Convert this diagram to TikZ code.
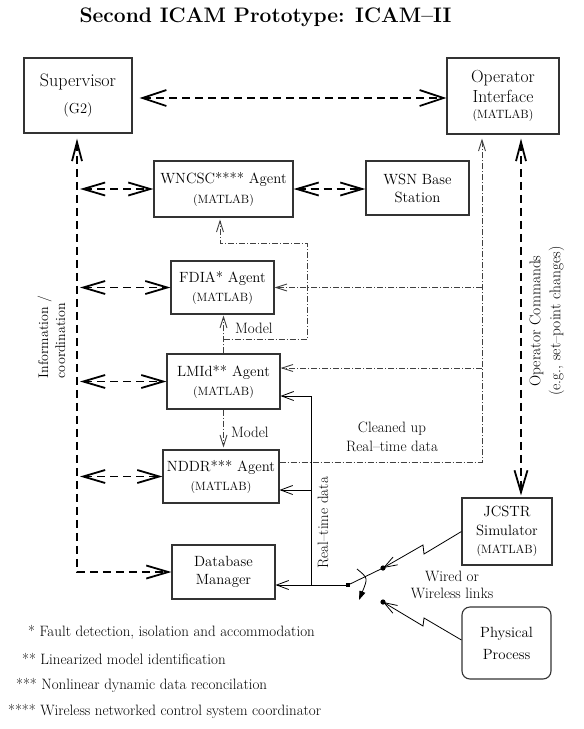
\documentclass[tikz,border=0pt]{standalone}
\usetikzlibrary{arrows.meta,calc}
\tikzset{
  tipS/.tip={Straight Barb[length=24pt,width=16pt]},
  tipA/.tip={Straight Barb[length=22pt,width=13pt]},
  tipN/.tip={Straight Barb[length=19pt,width=10pt]},
  tipD/.tip={Straight Barb[length=11pt,width=7pt]},
  tipL/.tip={Straight Barb[length=12pt,width=9pt]},
  tipW/.tip={Straight Barb[length=13pt,width=9pt]},
}
\begin{document}
\begin{tikzpicture}[x=1pt,y=-1pt,
  box/.style={draw=black!80, line width=1.1pt, inner sep=0pt, align=center},
  agent/.style={box, font=\fontsize{14.8}{19}\selectfont},
  bigdash/.style={line width=1.8pt, dash pattern=on 8pt off 5pt},
  dd/.style={line width=0.9pt, draw=black!75, dash pattern=on 6pt off 2pt on 1pt off 2pt},
  sl/.style={line width=0.8pt},
  lbl/.style={inner sep=0pt, font=\fontsize{15}{19}\selectfont},
  fn/.style={inner sep=0pt, anchor=west, font=\fontsize{15}{19}\selectfont},
]
\useasboundingbox (0,0) rectangle (584,729);
\fill[white] (0,0) rectangle (584,729);

% title
\node[inner sep=0pt, font=\bfseries\fontsize{21}{24}\selectfont] (title) at (265.5,17) {Second ICAM Prototype: ICAM\textendash II};

% boxes
\node[box, minimum width=108pt, minimum height=75pt, font=\fontsize{18}{27}\selectfont] (sup) at (78,95.5)
  {Supervisor\\{\fontsize{14.5}{27}\selectfont (G2)}};
\node[box, minimum width=112pt, minimum height=76pt, font=\fontsize{17.5}{20}\selectfont] (opi) at (503,96)
  {Operator\\Interface\\[-4pt]{\fontsize{12}{20}\selectfont (MATLAB)}};
\node[agent, minimum width=139pt, minimum height=56pt, font=\fontsize{14.8}{20}\selectfont] (wnc) at (223.5,189)
  {WNCSC**** Agent\\{\fontsize{12}{20}\selectfont (MATLAB)}};
\node[agent, minimum width=103pt, minimum height=54pt, font=\fontsize{14.8}{18}\selectfont] (wsn) at (417.5,188)
  {WSN Base\\Station};
\node[agent, minimum width=103pt, minimum height=53pt] (fdia) at (222.5,287.5)
  {FDIA* Agent\\{\fontsize{12}{19}\selectfont (MATLAB)}};
\node[agent, minimum width=113pt, minimum height=55pt] (lmid) at (223.5,381.5)
  {LMId** Agent\\{\fontsize{12}{19}\selectfont (MATLAB)}};
\node[agent, minimum width=116pt, minimum height=53pt] (nddr) at (221,476.5)
  {NDDR*** Agent\\{\fontsize{12}{19}\selectfont (MATLAB)}};
\node[agent, minimum width=103pt, minimum height=54pt, font=\fontsize{14.8}{18}\selectfont] (db) at (223.5,572)
  {Database\\Manager};
\node[agent, minimum width=90pt, minimum height=67pt, font=\fontsize{14.8}{18.5}\selectfont] (jcs) at (507,531.5)
  {JCSTR\\Simulator\\{\fontsize{12}{18.5}\selectfont (MATLAB)}};
\node[agent, rounded corners=8pt, minimum width=89pt, minimum height=72pt, font=\fontsize{14.8}{22}\selectfont] (phy) at (506.5,643)
  {Physical\\Process};

% coordinates
\coordinate (busx) at (77,0);
\coordinate (opx) at (521,0);
\coordinate (ddx) at (482,0);
\coordinate (rtx) at (311,0);
\coordinate (k1) at (307,339);
\coordinate (k2) at (307,243);
\coordinate (sw) at (348,585);
\coordinate (d1) at (383,568);
\coordinate (d2) at (383,602);
\coordinate (z1) at (423,545);
\coordinate (z2) at (424,554);
\coordinate (z3) at (423,626);
\coordinate (z4) at (424,618);
\coordinate (a1) at (357,569);
\coordinate (a2) at (368,578);
\coordinate (a3) at (359,600);
\path ([yshift=-2.5pt]sup.east) coordinate (supE)
      ([yshift=-2pt]opi.west) coordinate (opiW)
      ([yshift=14.5pt]nddr.east) coordinate (ndA)
      ([yshift=13.5pt]lmid.east) coordinate (lmA)
      ([yshift=-14.5pt]lmid.east) coordinate (lmB)
      ([yshift=-13.5pt]nddr.east) coordinate (ndB)
      ([yshift=-13pt]db.east) coordinate (dbE)
      ([xshift=-3.5pt]wnc.south) coordinate (wS)
      ([yshift=3pt]phy.west) coordinate (phW);

% thick dashed information links
\draw[bigdash, tipS-tipS, shorten <=7pt] (supE) -- (opiW);
\draw[bigdash, tipN-tipA, shorten <=5pt] (sup.south -| busx) -- (busx |- db.west) -- (db.west);
\foreach \n in {wnc,fdia,lmid,nddr}
  \draw[bigdash, tipA-tipA, shorten <=3pt] (busx |- \n.west) -- (\n.west);
\draw[bigdash, tipA-tipA] (wnc.east) -- (wsn.west |- wnc.east);
\draw[bigdash, tipN-tipA, shorten <=4pt, shorten >=2pt] (opi.south -| opx) -- (jcs.north -| opx);

% dash-dot data paths
\draw[dd, -tipD, shorten >=4pt] (ndA) -| (ddx |- opi.south);
\draw[dd, -tipD] (ddx |- fdia.east) -- (fdia.east);
\draw[dd, -tipD] (ddx |- lmA) -- (lmA);
\draw[dd, -tipD, shorten >=1pt] (lmid.north) -- (lmid.north |- fdia.south);
\draw[dd, -tipD, shorten >=2pt] (lmid.north |- k1) -- (k1) -- (k2) -- (wS |- k2) -- (wS);
\draw[dd, -tipD, shorten >=2pt] (lmid.south) -- (lmid.south |- nddr.north);

% solid real-time data paths
\draw[sl, -tipL] (sw) -- (dbE);
\draw[sl, -tipL] (rtx |- dbE) -- (rtx |- lmB) -- (lmB);
\draw[sl, -tipL] (rtx |- ndB) -- (ndB);

% switch and wireless links
\draw[sl] (sw) -- (d1);
\fill (sw) +(-2.2,-2.2) rectangle +(2.2,2.2);
\fill (d1) circle (2.6pt);
\fill (d2) circle (2.6pt);
\draw[sl, tipW-] (d1) -- (z1) -- (z2) -- (jcs.west);
\draw[sl, tipW-] (d2) -- (z3) -- (z4) -- (phW);
\draw[sl, -{Triangle[length=9pt,width=6pt]}] (a1) .. controls (a2) .. (a3);

% labels
\node[lbl, anchor=west] (mod1) at (235,328) {Model};
\node[lbl, anchor=west] (mod2) at (231,432) {Model};
\node[lbl, align=center] (clean) at (392,437) {Cleaned up\\Real\textendash time data};
\node[lbl, rotate=90] (rtd) at (323,523) {Real\textendash time data};
\node[lbl, align=center, font=\fontsize{15}{17}\selectfont] (wire) at (452,585) {Wired or\\Wireless links};
\node[lbl, rotate=90, align=left, font=\fontsize{14}{17}\selectfont] (info) at (51.5,337) {Information /\\coordination};
\node[lbl, rotate=90, align=center, font=\fontsize{15.5}{20}\selectfont] (opc) at (547,321) {Operator Commands\\(e.g., set\textendash point changes)};

% footnotes
\node[fn] (f1) at (28,632) {* Fault detection, isolation and accommodation};
\node[fn] (f2) at (22,659) {** Linearized model identification};
\node[fn] (f3) at (16,685) {*** Nonlinear dynamic data reconcilation};
\node[fn] (f4) at (8,711) {**** Wireless networked control system coordinator};
\end{tikzpicture}
\end{document}
